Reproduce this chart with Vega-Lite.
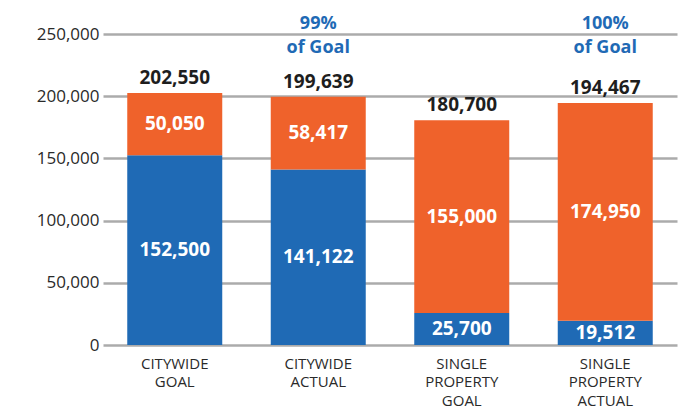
{
  "$schema": "https://vega.github.io/schema/vega-lite/v6.json",
  "width": 574,
  "height": 311,
  "autosize": {"type": "none"},
  "padding": {"left": 103, "top": 34, "right": 13, "bottom": 66},
  "background": "white",
  "config": {
    "font": "Open Sans",
    "view": {"stroke": null}
  },
  "datasets": {
    "segs": [
      {"cat": "CITYWIDE GOAL", "segment": "Lower", "value": 152500},
      {"cat": "CITYWIDE GOAL", "segment": "Upper", "value": 50050},
      {"cat": "CITYWIDE ACTUAL", "segment": "Lower", "value": 141122},
      {"cat": "CITYWIDE ACTUAL", "segment": "Upper", "value": 58417},
      {"cat": "SINGLE PROPERTY GOAL", "segment": "Lower", "value": 25700},
      {"cat": "SINGLE PROPERTY GOAL", "segment": "Upper", "value": 155000},
      {"cat": "SINGLE PROPERTY ACTUAL", "segment": "Lower", "value": 19512},
      {"cat": "SINGLE PROPERTY ACTUAL", "segment": "Upper", "value": 174950}
    ],
    "totals": [
      {"cat": "CITYWIDE GOAL", "total": 202550},
      {"cat": "CITYWIDE ACTUAL", "total": 199639},
      {"cat": "SINGLE PROPERTY GOAL", "total": 180700},
      {"cat": "SINGLE PROPERTY ACTUAL", "total": 194467}
    ],
    "notes": [
      {"cat": "CITYWIDE ACTUAL", "note": ["99%", "of Goal"]},
      {"cat": "SINGLE PROPERTY ACTUAL", "note": ["100%", "of Goal"]}
    ]
  },
  "encoding": {
    "x": {
      "field": "cat",
      "type": "nominal",
      "sort": ["CITYWIDE GOAL", "CITYWIDE ACTUAL", "SINGLE PROPERTY GOAL", "SINGLE PROPERTY ACTUAL"],
      "scale": {"paddingInner": 0.338, "paddingOuter": 0.169},
      "axis": {
        "title": null,
        "labelAngle": 0,
        "labelExpr": "split(datum.value, ' ')",
        "labelFont": "Open Sans",
        "labelFontSize": 15,
        "labelLineHeight": 18.5,
        "labelColor": "#2a2a2a",
        "labelPadding": 11,
        "ticks": false,
        "domain": false
      }
    }
  },
  "layer": [
    {
      "data": {"name": "segs"},
      "transform": [
        {"stack": "value", "groupby": ["cat"], "sort": [{"field": "segment", "order": "ascending"}], "as": ["v0", "v1"]}
      ],
      "mark": {"type": "bar"},
      "encoding": {
        "y": {
          "field": "v0",
          "type": "quantitative",
          "scale": {"domain": [0, 250000], "nice": false},
          "axis": {
            "title": null,
            "values": [0, 50000, 100000, 150000, 200000, 250000],
            "format": ",d",
            "labelFont": "Open Sans",
            "labelFontSize": 17,
            "labelColor": "#2a2a2a",
            "labelPadding": 4,
            "ticks": false,
            "domain": false,
            "grid": true,
            "gridColor": "#ababab",
            "gridWidth": 2.5,
            "zindex": 0
          }
        },
        "y2": {"field": "v1"},
        "color": {
          "field": "segment",
          "type": "nominal",
          "scale": {"domain": ["Lower", "Upper"], "range": ["#1f6ab5", "#ef622b"]},
          "legend": null
        }
      }
    },
    {
      "data": {"name": "segs"},
      "transform": [
        {"stack": "value", "groupby": ["cat"], "sort": [{"field": "segment", "order": "ascending"}], "as": ["v0", "v1"]},
        {"fold": ["v0", "v1"], "as": ["edge", "pos"]},
        {"aggregate": [{"op": "mean", "field": "pos", "as": "mid"}, {"op": "max", "field": "value", "as": "val"}], "groupby": ["cat", "segment"]}
      ],
      "mark": {"type": "text", "color": "white", "fontWeight": "bold", "fontSize": 19, "baseline": "middle"},
      "encoding": {
        "y": {"field": "mid", "type": "quantitative"},
        "text": {"field": "val", "type": "quantitative", "format": ",d"}
      }
    },
    {
      "data": {"name": "totals"},
      "mark": {"type": "text", "color": "#1e1e1e", "fontWeight": "bold", "fontSize": 19, "baseline": "middle", "dy": -15},
      "encoding": {
        "y": {"field": "total", "type": "quantitative"},
        "text": {"field": "total", "type": "quantitative", "format": ",d"}
      }
    },
    {
      "data": {"name": "notes"},
      "mark": {"type": "text", "color": "#1f6ab5", "fontWeight": "bold", "fontSize": 18, "baseline": "middle", "lineHeight": 24, "dy": -10},
      "encoding": {
        "y": {"datum": 250000, "type": "quantitative"},
        "text": {"field": "note"}
      }
    }
  ]
}
